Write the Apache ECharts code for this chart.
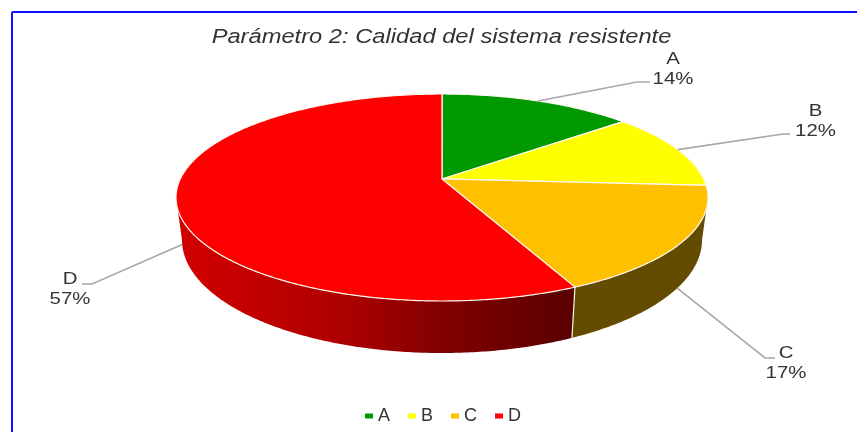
<!DOCTYPE html>
<html>
<head>
<meta charset="utf-8">
<title>Parámetro 2</title>
<script src="https://cdn.jsdelivr.net/npm/echarts@6/dist/echarts.min.js"></script>
<style>
  html, body { margin: 0; padding: 0; background: #fff; }
  #main { width: 857px; height: 432px; filter: blur(0.7px); }
</style>
</head>
<body>
<div id="main"></div>
<script>
var titleText = "Parámetro 2: Calidad del sistema resistente";
var categories = ["A", "B", "C", "D"];
var percents = [14, 12, 17, 57];

var topColors = ["#009900", "#ffff00", "#ffc000", "#ff0000"];
var wallColors = [null, null, "#634c00", null];

// geometry of the tilted pie
var topRim = { cx: 442, cy: 197.5, rx: 266, ry: 103.5 };
var bottomRim = { cx: 442, cy: 240, rx: 260, ry: 113 };
var tilt = -0.179; // where the pie centre lands inside the ellipse
var frontFrom = Math.acos(tilt);
var frontTo = 2 * Math.PI - frontFrom;

// elbow and text centre of each leader line
var leaders = [
  { elbow: [637, 82], end: [650, 82], text: [673, 69.5], rim: topRim },
  { elbow: [783, 134], end: [790, 134], text: [815.5, 121], rim: topRim },
  { elbow: [765, 358], end: [775, 358], text: [786, 363.5], rim: bottomRim },
  { elbow: [92, 284], end: [82, 284], text: [70, 289.5], rim: bottomRim }
];

var total = percents.reduce(function (a, b) { return a + b; }, 0);

function rimPoint(rim, theta) {
  var x = Math.sin(theta);
  var y = -Math.cos(theta);
  var d = 1 + tilt * y;
  var px = x * Math.sqrt(1 - tilt * tilt) / d;
  var py = (y + tilt) / d;
  return [rim.cx + px * rim.rx, rim.cy + py * rim.ry];
}

function arcPoints(rim, t0, t1) {
  var pts = [];
  var n = Math.max(2, Math.ceil((t1 - t0) / 0.01));
  for (var i = 0; i <= n; i++) {
    pts.push(rimPoint(rim, t0 + (t1 - t0) * i / n));
  }
  return pts;
}

function labelText(i, value, leader) {
  return {
    type: "text",
    x: leader.text[0],
    y: leader.text[1],
    scaleX: 1.2,
    style: {
      text: categories[i] + "\n" + Math.round(value / total * 100) + "%",
      fontSize: 17,
      lineHeight: 20,
      fontFamily: "Liberation Sans",
      fill: "#333333",
      align: "center",
      verticalAlign: "middle"
    }
  };
}

function renderSlice(params, api) {
  var i = params.seriesIndex;
  var value = api.value(0);
  var before = percents.slice(0, i).reduce(function (a, b) { return a + b; }, 0);
  var t0 = before / total * 2 * Math.PI;
  var t1 = (before + value) / total * 2 * Math.PI;
  var children = [];

  // side wall, only the part that faces us
  var w0 = Math.max(t0, frontFrom);
  var w1 = Math.min(t1, frontTo);
  if (w0 < w1) {
    var upper = arcPoints(topRim, w0, w1);
    var lower = arcPoints(bottomRim, w0, w1);
    var fill = wallColors[i] || new echarts.graphic.LinearGradient(0, 0, 1, 0, [
      { offset: 0, color: "#d20000" },
      { offset: 0.4, color: "#b00000" },
      { offset: 0.65, color: "#850000" },
      { offset: 1, color: "#580000" }
    ]);
    children.push({
      type: "polygon",
      shape: { points: upper.concat(lower.reverse()) },
      style: { fill: fill }
    });
    if (t0 > frontFrom) {
      children.push({
        type: "line",
        shape: {
          x1: upper[0][0], y1: upper[0][1],
          x2: rimPoint(bottomRim, w0)[0], y2: rimPoint(bottomRim, w0)[1]
        },
        style: { stroke: "#f4f4ea", lineWidth: 1.2 }
      });
    }
  }

  // top face: apex is the pie centre seen through the tilt
  var apex = [topRim.cx, topRim.cy + tilt * topRim.ry];
  children.push({
    type: "polygon",
    shape: { points: [apex].concat(arcPoints(topRim, t0, t1)) },
    style: { fill: topColors[i], stroke: "#fff8f0", lineWidth: 1.2 }
  });

  // leader line from the middle of the slice
  var leader = leaders[i];
  var start = rimPoint(leader.rim, (t0 + t1) / 2);
  children.push({
    type: "polyline",
    shape: { points: [start, leader.elbow, leader.end] },
    style: { stroke: "#a8a8a8", lineWidth: 1.6, fill: null }
  });
  children.push(labelText(i, value, leader));

  return { type: "group", children: children };
}

var chart = echarts.init(document.getElementById("main"), null, { renderer: "canvas" });

chart.setOption({
  animation: false,
  backgroundColor: "#ffffff",
  legend: {
    data: categories,
    left: 360,
    top: 402,
    icon: "rect",
    itemWidth: 8,
    itemHeight: 5,
    itemGap: 18,
    textStyle: { fontFamily: "Liberation Sans", fontSize: 18, color: "#333333" }
  },
  graphic: [
    { type: "line", shape: { x1: 12, y1: 12, x2: 857, y2: 12 }, style: { stroke: "#1010ff", lineWidth: 2 } },
    { type: "line", shape: { x1: 12, y1: 12, x2: 12, y2: 432 }, style: { stroke: "#1010ff", lineWidth: 2 } },
    {
      type: "text",
      x: 441.5,
      y: 37,
      scaleX: 1.185,
      style: {
        text: titleText,
        fontSize: 20,
        fontStyle: "italic",
        fontFamily: "Liberation Sans",
        fill: "#333333",
        align: "center",
        verticalAlign: "middle"
      }
    }
  ],
  series: categories.map(function (name, i) {
    return {
      name: name,
      type: "custom",
      coordinateSystem: "none",
      renderItem: renderSlice,
      itemStyle: { color: topColors[i] },
      data: [[percents[i]]]
    };
  })
});
</script>
</body>
</html>
